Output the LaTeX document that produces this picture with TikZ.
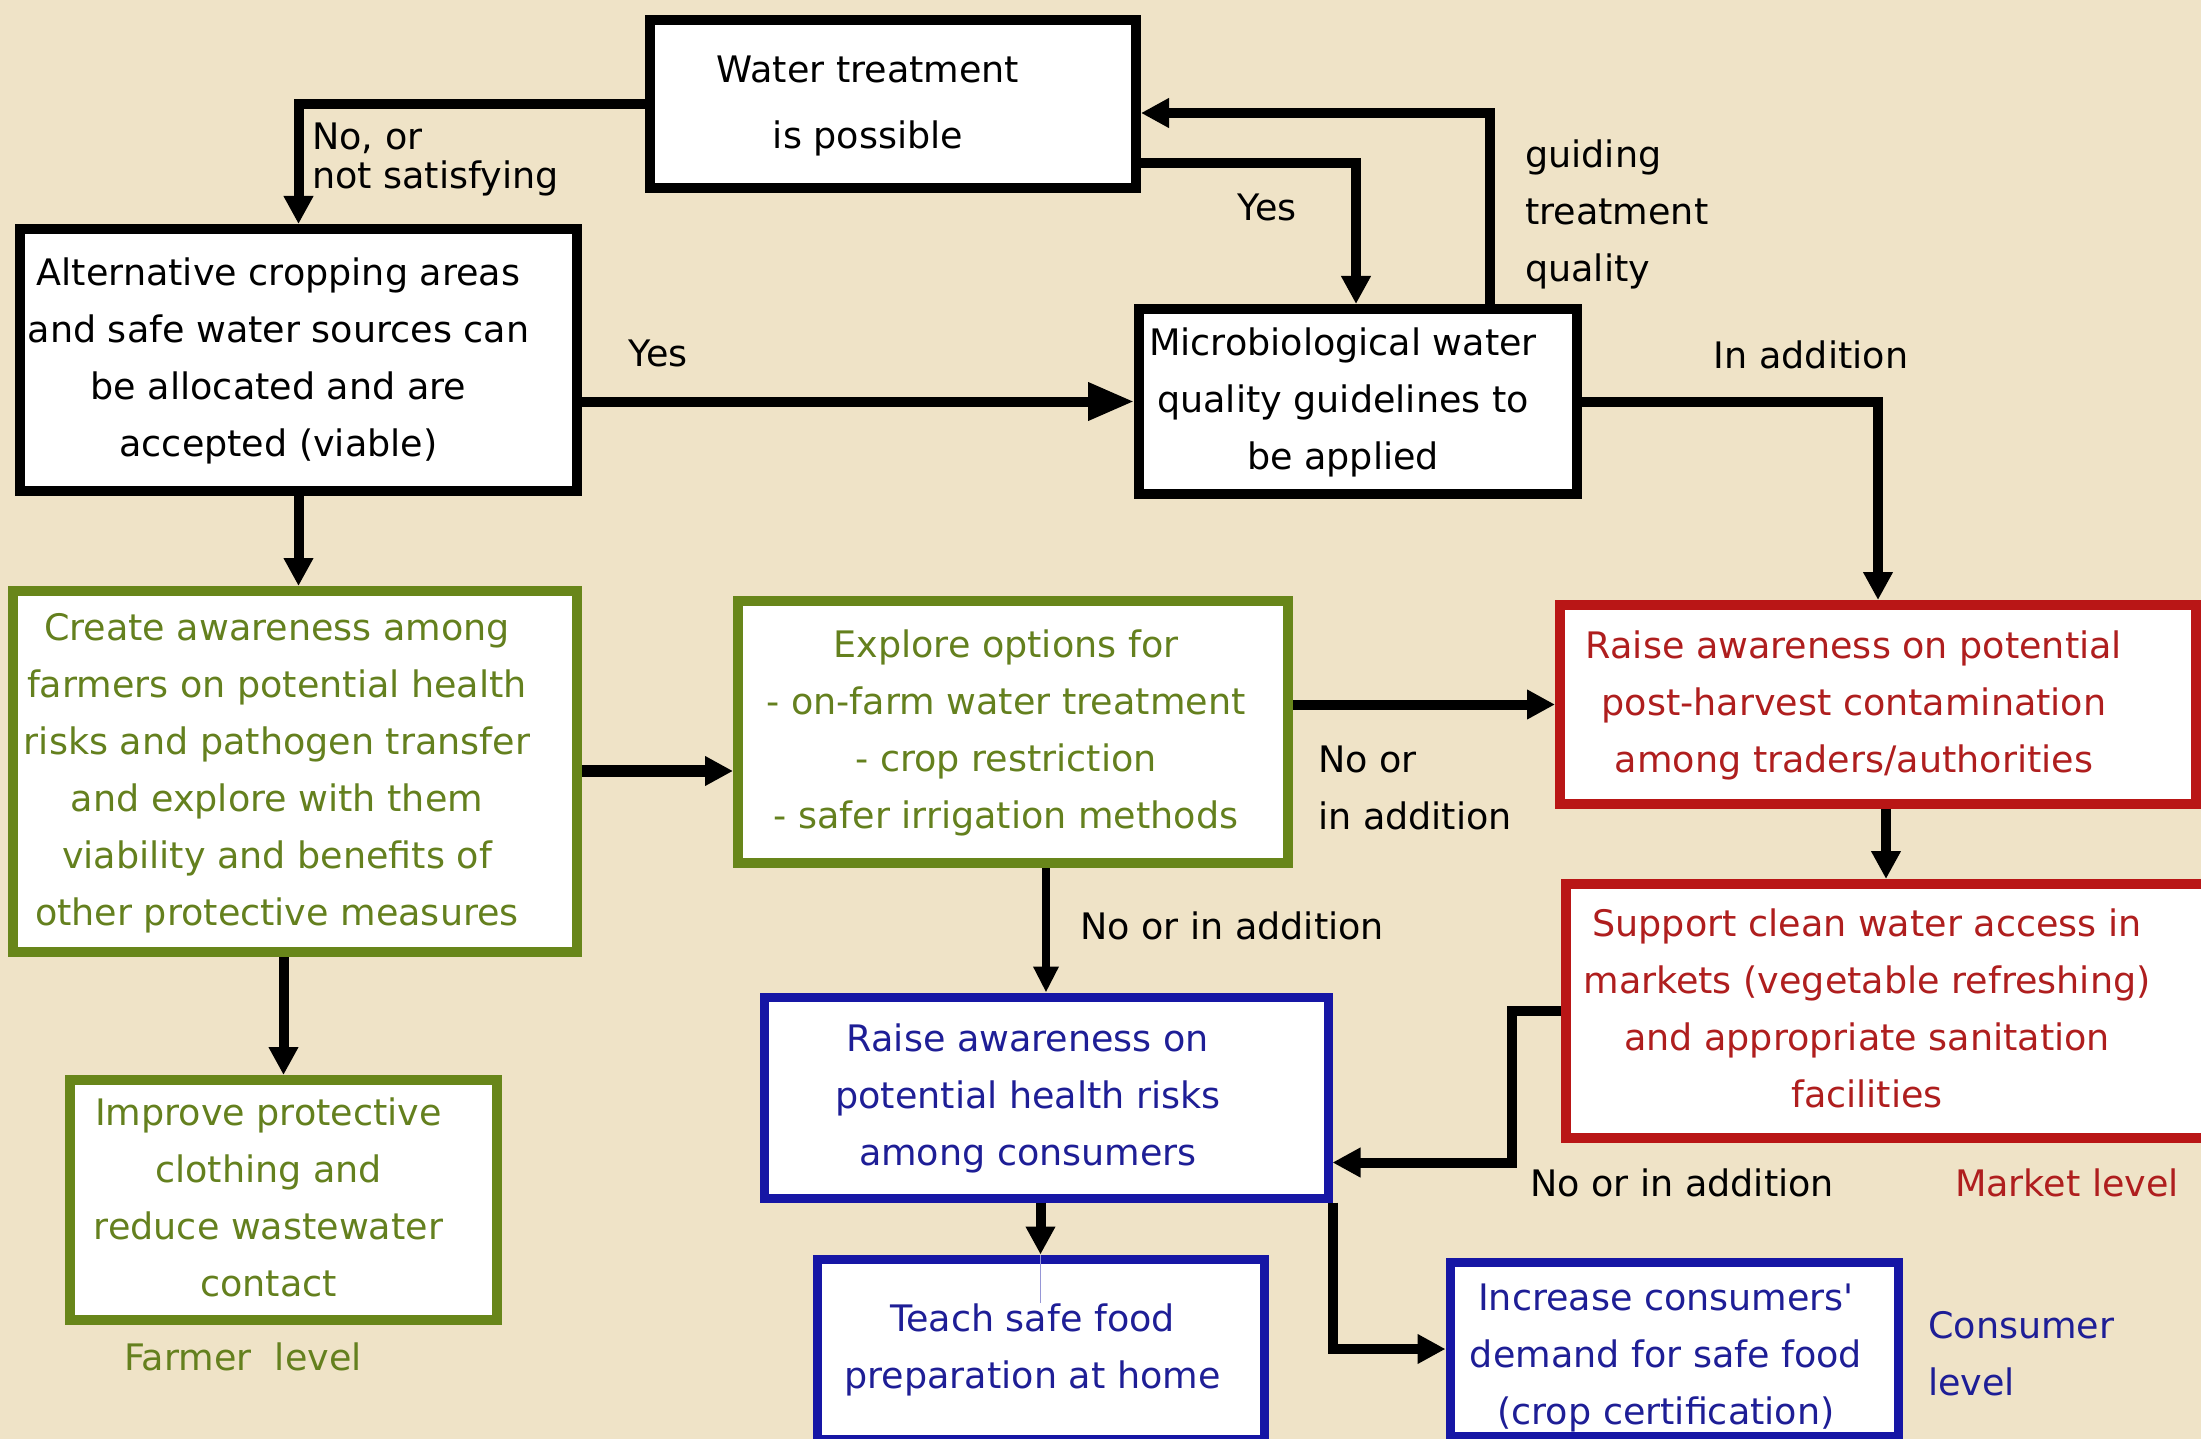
\documentclass[tikz,border=0pt]{standalone}
\usepackage{fontspec}
\setmainfont{DejaVu Sans}[Ligatures=TeXOff]
\usetikzlibrary{arrows.meta,calc}
\definecolor{bg}{RGB}{239,227,199}
\definecolor{fgreen}{RGB}{104,134,26}
\definecolor{tgreen}{RGB}{100,128,30}
\definecolor{fred}{RGB}{185,22,22}
\definecolor{tred}{RGB}{175,30,30}
\definecolor{fblue}{RGB}{22,22,165}
\definecolor{tblue}{RGB}{30,30,150}
% text block shifted by (#1 horizontally, #2 vertically) inside its box
\newcommand{\bxt}[3]{\raisebox{#2}[\height][\depth]{\hspace*{#1}\begin{tabular}{@{}c@{}}#3\end{tabular}\hspace*{-#1}}}
\tikzset{
  box/.style={draw, fill=white, line width=10pt, inner sep=0pt,
    font=\fontsize{36.5}{57}\selectfont},
  gbox/.style={box, draw=fgreen, text=tgreen},
  rbox/.style={box, draw=fred, text=tred},
  bbox/.style={box, draw=fblue, text=tblue, line width=9pt},
  lbl/.style={inner sep=0pt, font=\fontsize{36.5}{57}\selectfont},
  arr/.style={line width=10pt, -{Triangle[length=28pt,width=28pt]}},
  tarr/.style={line width=8pt, -{Triangle[length=26pt,width=24pt]}}
}
\begin{document}
\begin{tikzpicture}[x=1pt,y=-1pt]
\fill[bg] (0,0) rectangle (2201,1439);
\useasboundingbox (0,0) rectangle (2201,1439);
\clip (0,0) rectangle (2201,1439);

% boxes
\node[box, minimum width=486pt, minimum height=168pt, font=\fontsize{36.5}{66}\selectfont] (wt) at (893,104) {\bxt{-25pt}{2pt}{Water treatment\\is possible}};
\node[box, minimum width=557pt, minimum height=262pt] (alt) at (298.5,360) {\bxt{-20pt}{0pt}{Alternative cropping areas\\and safe water sources can\\be allocated and are\\accepted (viable)}};
\node[box, minimum width=438pt, minimum height=185pt] (micro) at (1358,401.5) {\bxt{-15pt}{0pt}{Microbiological water\\quality guidelines to\\be applied}};
\node[gbox, minimum width=564pt, minimum height=361pt] (create) at (295,771.5) {\bxt{-18pt}{0pt}{Create awareness among\\farmers on potential health\\risks and pathogen transfer\\and explore with them\\viability and benefits of\\other protective measures}};
\node[gbox, minimum width=550pt, minimum height=262pt] (explore) at (1013,732) {\bxt{-7pt}{0pt}{Explore options for\\- on-farm water treatment\\- crop restriction\\- safer irrigation methods}};
\node[rbox, minimum width=636pt, minimum height=199pt] (red1) at (1878,704.5) {\bxt{-24pt}{0pt}{Raise awareness on potential\\post-harvest contamination\\among traders/authorities}};
\node[rbox, minimum width=646pt, minimum height=254pt] (support) at (1889,1011) {\bxt{-22pt}{0pt}{Support clean water access in\\markets (vegetable refreshing)\\and appropriate sanitation\\facilities}};
\node[bbox, minimum width=564pt, minimum height=201pt] (cons) at (1046,1097.5) {\bxt{-18pt}{0pt}{Raise awareness on\\potential health risks\\among consumers}};
\node[gbox, minimum width=427pt, minimum height=240pt] (improve) at (283.5,1200) {\bxt{-15pt}{0pt}{Improve protective\\clothing and\\reduce wastewater\\contact}};
\node[bbox, minimum width=447pt, minimum height=180pt] (teach) at (1040.5,1349) {\bxt{-8pt}{0pt}{Teach safe food\\preparation at home}};
\node[bbox, minimum width=448pt, minimum height=174pt] (incr) at (1674,1349) {\bxt{-8pt}{-7pt}{Increase consumers'\\demand for safe food\\(crop certification)}};

% connectors
\coordinate (rs) at ($(red1.south)+(8,0)$);
\draw[arr] (wt.west) -| (alt.north);
\draw[arr, -{Triangle[length=46pt,width=36pt]}] (alt.east |- micro.west) -- (micro.west);
\draw[arr] ($(wt.south east)+(0,-30)$) -| ($(micro.north)+(-2,0)$);
\draw[arr] ($(micro.north east)+(-92,0)$) |- ($(wt.north east)+(0,98)$);
\draw[arr] (micro.east) -| (red1.north);
\draw[arr] (alt.south) -- (alt.south |- create.north);
\draw[arr, line width=12pt] (create.east |- 0,771) -- (explore.west |- 0,771);
\draw[arr] (explore.east |- red1.west) -- (red1.west);
\draw[arr] (rs) -- (rs |- support.north);
\draw[tarr] (cons.north |- explore.south) -- (cons.north);
\draw[arr] (support.west) -- ++(-49,0) |- ($(cons.south east)+(0,-40)$);
\draw[arr] (cons.south east) |- (incr.west);
\draw[arr] (teach.north |- cons.south) -- (teach.north);
\draw[line width=1.2pt, fblue!45] (teach.north) -- ++(0,48);
\draw[arr] (improve.north |- create.south) -- (improve.north);

% labels
\node[lbl, anchor=north west, align=left, font=\fontsize{36.5}{39}\selectfont] (l1) at (312,123) {No, or\\not satisfying};
\node[lbl] (l2) at (658,353) {Yes};
\node[lbl] (l3) at (1267,207) {Yes};
\node[lbl, anchor=north west, align=left] (l4) at (1525,140) {guiding\\treatment\\quality};
\node[lbl] (l5) at (1811,355) {In addition};
\node[lbl, anchor=north west, align=left] (l6) at (1318,746) {No or\\in addition};
\node[lbl, anchor=west] (l7) at (1080,926) {No or in addition};
\node[lbl] (l8) at (1682,1183) {No or in addition};
\node[lbl, text=tred] (l9) at (2067,1183) {Market level};
\node[lbl, text=tgreen] (l10) at (243,1357) {Farmer\ \ level};
\node[lbl, text=tblue, anchor=north west, align=left] (l11) at (1928,1311) {Consumer\\level};
\end{tikzpicture}
\end{document}
